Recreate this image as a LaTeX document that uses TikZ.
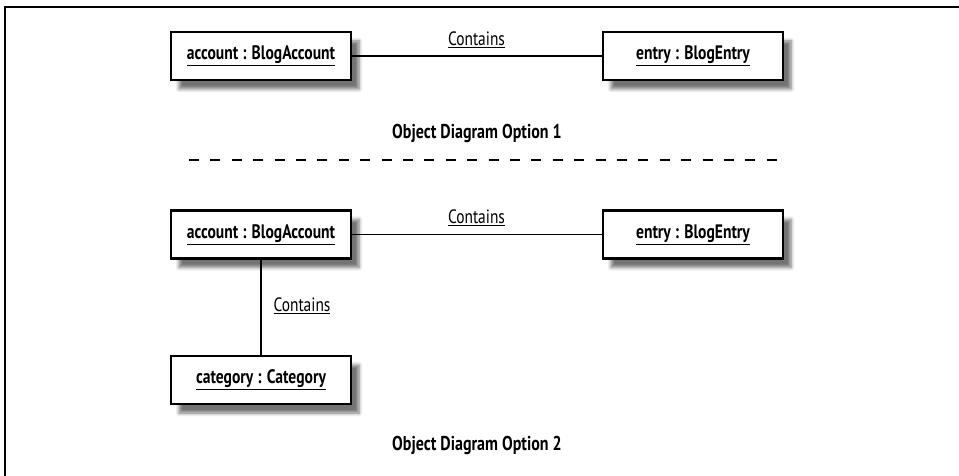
\documentclass[tikz,border=0pt]{standalone}
\usepackage{fontspec}
\setmainfont{PT Sans}[FakeStretch=0.8]
\usetikzlibrary{shadows.blur}
\tikzset{
  obj/.style={draw=black, line width=2.4pt, fill=white, minimum width=180pt, minimum height=48pt,
    inner sep=0pt, font=\fontsize{19.5}{22}\selectfont\bfseries,
    blur shadow={shadow xshift=8pt, shadow yshift=-9pt, shadow blur steps=6, shadow blur radius=3.5pt, shadow opacity=55}},
  link/.style={line width=1.9pt},
  lbl/.style={font=\fontsize{19.3}{22}\selectfont, inner sep=0pt},
  captiontext/.style={font=\fontsize{20}{23}\selectfont\bfseries, inner sep=0pt},
  framelines/.style={line width=1.8pt}
}
\newcommand{\ul}[1]{\underline{#1}}
\begin{document}
\begin{tikzpicture}[x=1pt,y=-1pt]
\useasboundingbox (0,0) rectangle (959,476);
\draw[framelines] (5,476) -- (5,7) -- (959,7);
% Option 1
\node[obj] (acc1) at (261,56) {\ul{account : BlogAccount}};
\node[obj] (ent1) at (693,56) {\ul{entry : BlogEntry}};
\draw[link] (acc1.east) -- (ent1.west);
\node[lbl] (c1) at (476.5,40) {\ul{Contains}};
\node[captiontext] (t1) at (477,133) {Object Diagram Option 1};
\coordinate (d1) at (189,160);
\coordinate (d2) at (776.8,160);
\draw[line width=2.2pt, dash pattern=on 10pt off 11.4pt] (d1) -- (d2);
% Option 2
\node[obj] (acc2) at (261,234.5) {\ul{account : BlogAccount}};
\node[obj] (ent2) at (693,234.5) {\ul{entry : BlogEntry}};
\draw[link] (acc2.east) -- (ent2.west);
\node[lbl] (c2) at (476.5,218) {\ul{Contains}};
\node[obj] (cat) at (261,380) {\ul{category : Category}};
\draw[link] (acc2.south) -- (cat.north);
\node[lbl] (c3) at (302,306) {\ul{Contains}};
\node[captiontext] (t2) at (477,445) {Object Diagram Option 2};
\end{tikzpicture}
\end{document}
